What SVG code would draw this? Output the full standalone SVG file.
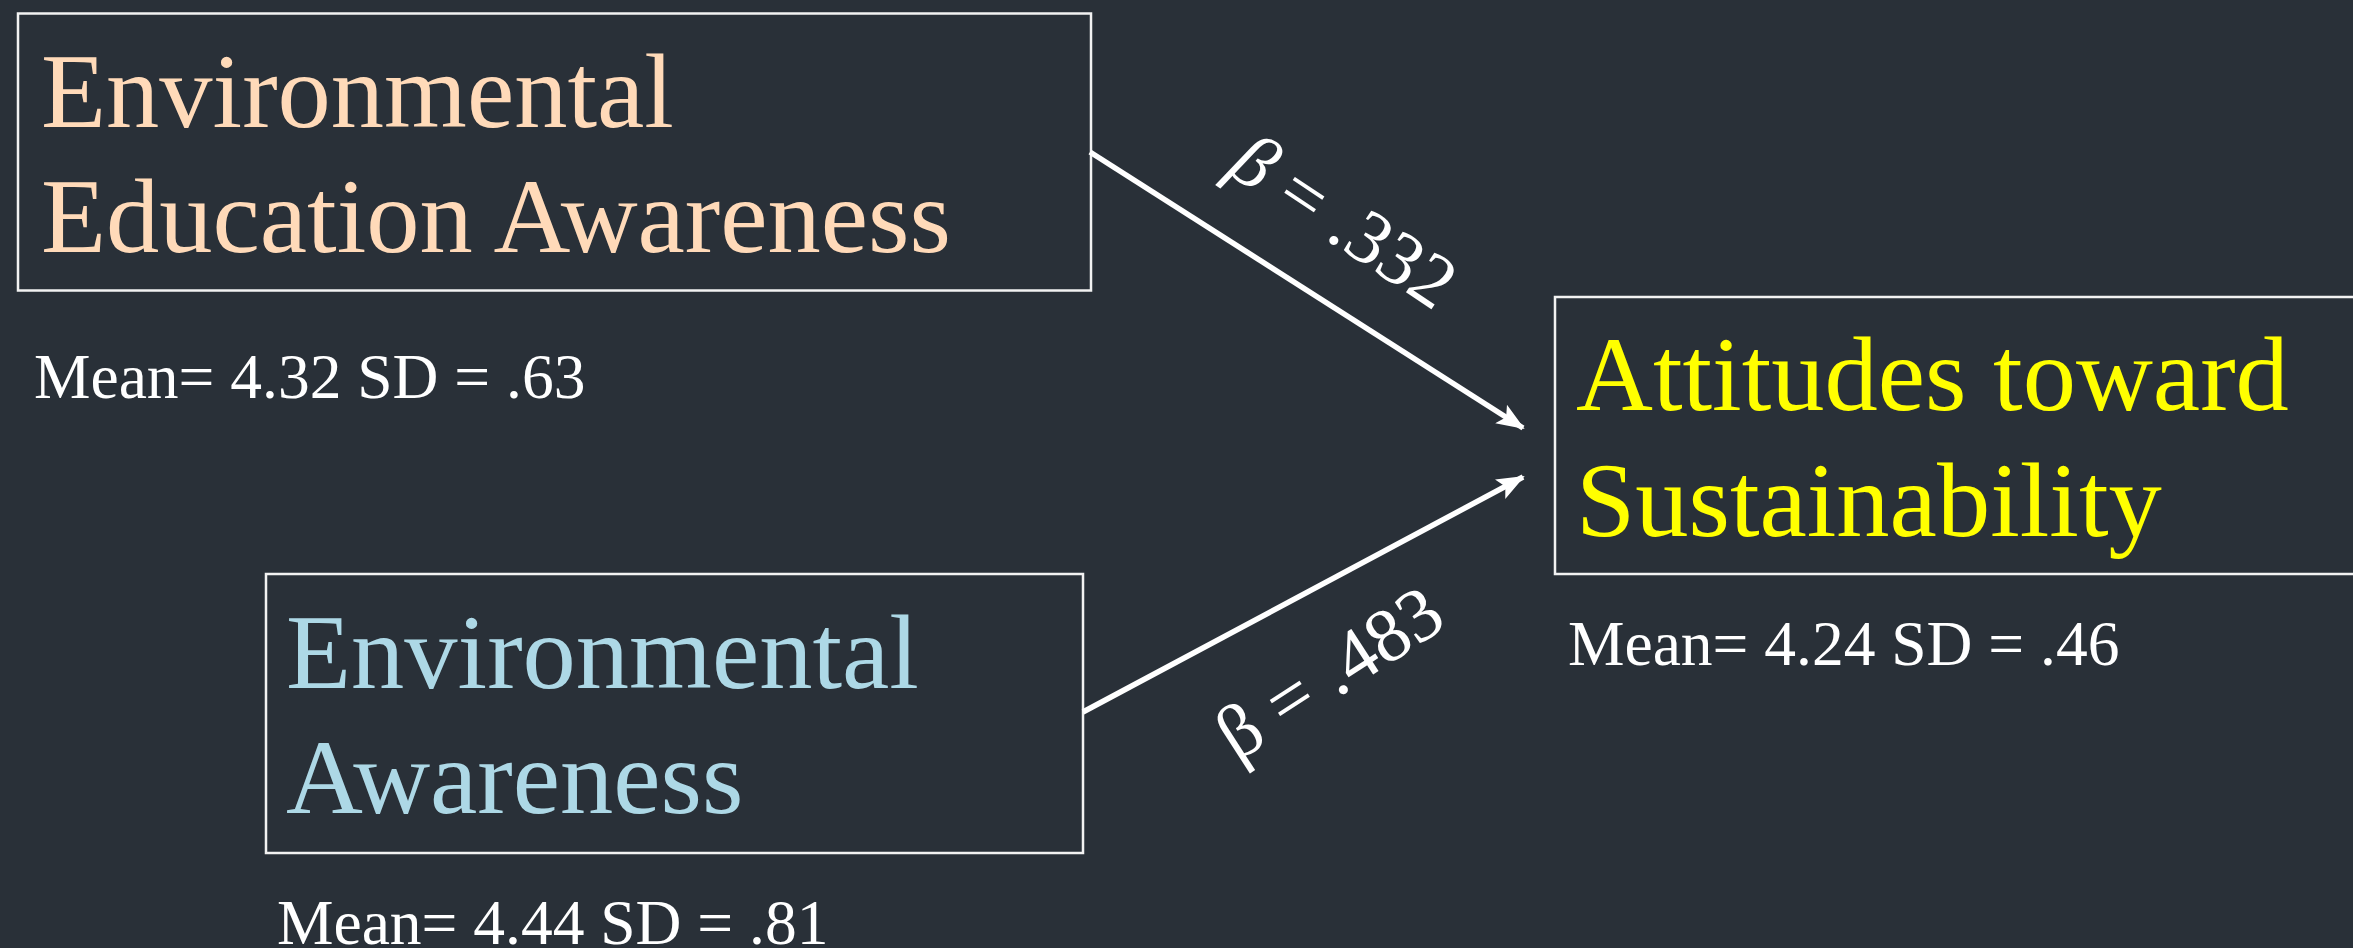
<svg xmlns="http://www.w3.org/2000/svg" width="2353" height="948" viewBox="0 0 2353 948">
<style>
.bg{fill:#293038}
.box{fill:none;stroke:#f2f2f2;stroke-width:2.5}
.t{font-family:"Liberation Serif","Times New Roman",serif}
.big{font-size:106.5px}
.stat{font-size:63.5px;fill:#ffffff}
.lbl{font-size:76px;fill:#ffffff}
.conn{stroke:#ffffff;stroke-width:5.5;fill:none}
</style>
<defs>
<marker id="ah" markerUnits="userSpaceOnUse" markerWidth="28" markerHeight="22" refX="26" refY="11" orient="auto">
<path d="M0,0 L28,11 L0,22 L6,11 z" fill="#ffffff"/>
</marker>
</defs>
<rect class="bg" x="0" y="0" width="2353" height="948"/>
<g id="n1">
<rect class="box" x="18" y="13.5" width="1073" height="277"/>
<text class="t big" x="41" y="127" fill="#FFDAB9">Environmental</text>
<text class="t big" x="41" y="252" fill="#FFDAB9">Education Awareness</text>
<text class="t stat" x="34" y="398">Mean= 4.32 SD = .63</text>
</g>
<g id="n2">
<rect class="box" x="266" y="574" width="817" height="279"/>
<text class="t big" x="286" y="688" fill="#ADD8E6">Environmental</text>
<text class="t big" x="286" y="813" fill="#ADD8E6">Awareness</text>
<text class="t stat" x="277" y="944">Mean= 4.44 SD = .81</text>
</g>
<g id="n3">
<rect class="box" x="1555" y="297" width="820" height="277"/>
<text class="t big" x="1576" y="410" font-size="107.5" fill="#FFFF00">Attitudes toward</text>
<text class="t big" x="1576" y="536" font-size="107.5" fill="#FFFF00">Sustainability</text>
<text class="t stat" x="1568" y="665">Mean= 4.24 SD = .46</text>
</g>
<g id="connectors">
<line class="conn" x1="1090" y1="152" x2="1523" y2="428" marker-end="url(#ah)"/>
<line class="conn" x1="1083" y1="712" x2="1523" y2="477" marker-end="url(#ah)"/>
<text class="t lbl" text-anchor="middle" transform="translate(1330,242) rotate(33.6)"><tspan font-style="italic">β</tspan> = .332</text>
<text class="t lbl" text-anchor="middle" transform="translate(1343,694) rotate(-32.9)">β = .483</text>
</g>
</svg>
